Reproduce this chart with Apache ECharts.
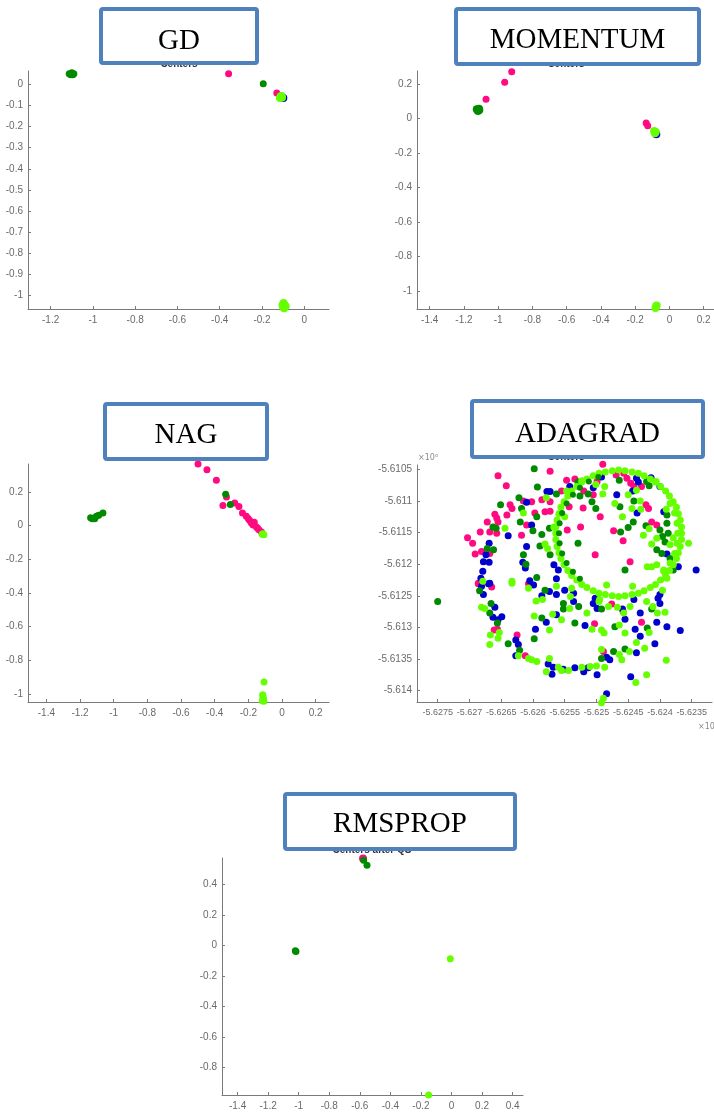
<!DOCTYPE html>
<html><head><meta charset="utf-8">
<script src="https://cdn.jsdelivr.net/npm/echarts@6/dist/echarts.min.js"></script>
<style>html,body{margin:0;padding:0;background:#fff}#c{width:714px;height:1113px}</style>
</head><body><div id="c"></div>
<script>
// ---------------- DATA ----------------
const panelTitles = ['GD', 'MOMENTUM', 'NAG', 'ADAGRAD', 'RMSPROP'];
const hiddenTitles = ['Centers', 'Centers', '', 'Centers', 'Centers after QS'];

// tick labels
const gdXTicks = [-1.2, -1, -0.8, -0.6, -0.4, -0.2, 0];
const gdYTicks = [0, -0.1, -0.2, -0.3, -0.4, -0.5, -0.6, -0.7, -0.8, -0.9, -1];
const momXTicks = [-1.4, -1.2, -1, -0.8, -0.6, -0.4, -0.2, 0, 0.2];
const momYTicks = [0.2, 0, -0.2, -0.4, -0.6, -0.8, -1];
const nagXTicks = [-1.4, -1.2, -1, -0.8, -0.6, -0.4, -0.2, 0, 0.2];
const nagYTicks = [0.2, 0, -0.2, -0.4, -0.6, -0.8, -1];
const adaXTicks = [-5.6275, -5.627, -5.6265, -5.626, -5.6255, -5.625, -5.6245, -5.624, -5.6235];
const adaYTicks = [-5.6105, -5.611, -5.6115, -5.612, -5.6125, -5.613, -5.6135, -5.614];
const rmsXTicks = [-1.4, -1.2, -1, -0.8, -0.6, -0.4, -0.2, 0, 0.2, 0.4];
const rmsYTicks = [0.4, 0.2, 0, -0.2, -0.4, -0.6, -0.8];

// GD
const gdPink = [[-0.358, 0.050], [-0.130, -0.041]];
const gdGreen = [[-1.112, 0.050], [-1.100, 0.055], [-1.090, 0.050], [-1.105, 0.045], [-1.095, 0.045], [-0.194, 0.003]];
const gdBlue = [[-0.099, -0.065]];
const gdLime = [[-0.112, -0.058], [-0.105, -0.062], [-0.115, -0.065], [-0.108, -0.055],
  [-0.098, -1.035], [-0.092, -1.045], [-0.100, -1.055], [-0.088, -1.050], [-0.095, -1.060], [-0.103, -1.045]];

// MOMENTUM
const momPink = [[-0.921, 0.273], [-0.962, 0.212], [-1.071, 0.113], [-0.136, -0.025], [-0.127, -0.041]];
const momGreen = [[-1.125, 0.055], [-1.112, 0.058], [-1.118, 0.045], [-1.110, 0.050]];
const momBlue = [[-0.077, -0.091]];
const momLime = [[-0.090, -0.072], [-0.080, -0.078], [-0.085, -0.085],
  [-0.079, -1.093], [-0.075, -1.085], [-0.082, -1.100]];

// NAG
const nagPink = [[-0.499, 0.366], [-0.446, 0.332], [-0.390, 0.269], [-0.330, 0.170], [-0.351, 0.119], [-0.281, 0.135],
  [-0.256, 0.114], [-0.235, 0.075], [-0.212, 0.055], [-0.200, 0.040], [-0.192, 0.031], [-0.182, 0.015], [-0.165, 0.020],
  [-0.172, 0.004], [-0.152, -0.008], [-0.145, -0.015], [-0.137, -0.024], [-0.122, -0.038]];
const nagGreen = [[-1.137, 0.046], [-1.127, 0.041], [-1.113, 0.041], [-1.103, 0.055], [-1.089, 0.061], [-1.064, 0.075],
  [-0.335, 0.186], [-0.307, 0.125]];
const nagLime = [[-0.113, -0.048], [-0.108, -0.055], [-0.118, -0.052], [-0.107, -0.929], [-0.115, -1.005],
  [-0.113, -1.015], [-0.112, -1.024], [-0.110, -1.035], [-0.108, -1.044], [-0.117, -1.040]];

// ADAGRAD (values x 10^6)
const adaPink = [[-5.62573,-5.61053],[-5.62655,-5.61060],[-5.62642,-5.61076],[-5.62555,-5.61084],[-5.62615,-5.61100],[-5.62602,-5.61101],[-5.62586,-5.61098],[-5.62573,-5.61101],[-5.62636,-5.61106],[-5.62660,-5.61121],[-5.62657,-5.61127],[-5.62641,-5.61122],[-5.62597,-5.61119],[-5.62581,-5.61117],[-5.62573,-5.61116],[-5.62672,-5.61133],[-5.62655,-5.61133],[-5.62683,-5.61149],[-5.62668,-5.61149],[-5.62657,-5.61151],[-5.62610,-5.61138],[-5.62618,-5.61154],[-5.62703,-5.61158],[-5.62695,-5.61167],[-5.62691,-5.61184],[-5.62681,-5.61180],[-5.62668,-5.61183],[-5.62686,-5.61230],[-5.62633,-5.61112],
[-5.62490,-5.61042],[-5.62547,-5.61067],[-5.62534,-5.61065],[-5.62499,-5.61069],[-5.62469,-5.61059],[-5.62457,-5.61056],[-5.62452,-5.61064],[-5.62446,-5.61072],[-5.62441,-5.61077],[-5.62429,-5.61077],[-5.62520,-5.61084],[-5.62505,-5.61090],[-5.62521,-5.61111],[-5.62543,-5.61109],[-5.62494,-5.61125],[-5.62422,-5.61106],[-5.62418,-5.61112],[-5.62473,-5.61147],[-5.62458,-5.61163],[-5.62525,-5.61141],[-5.62546,-5.61146],[-5.62502,-5.61185],[-5.62447,-5.61196],[-5.62413,-5.61133],[-5.62405,-5.61138],
[-5.62686,-5.61231],[-5.62665,-5.61236],[-5.62661,-5.61304],[-5.62656,-5.61303],[-5.62625,-5.61312],[-5.62612,-5.61345],[-5.62607,-5.61231],
[-5.62476,-5.61263],[-5.62458,-5.61275],[-5.62503,-5.61294],[-5.62429,-5.61292],[-5.62489,-5.61338]];
const adaBlue = [[-5.62578,-5.61085],[-5.62573,-5.61085],[-5.62610,-5.61102],[-5.62602,-5.61138],[-5.62639,-5.61155],[-5.62669,-5.61167],[-5.62674,-5.61185],[-5.62678,-5.61196],[-5.62669,-5.61197],[-5.62679,-5.61211],[-5.62682,-5.61222],[-5.62668,-5.61230],[-5.62610,-5.61172],[-5.62612,-5.61206],[-5.62605,-5.61226],[-5.62567,-5.61201],[-5.62560,-5.61209],[-5.62563,-5.61223],
[-5.62542,-5.61077],[-5.62505,-5.61079],[-5.62492,-5.61062],[-5.62437,-5.61064],[-5.62434,-5.61070],[-5.62443,-5.61084],[-5.62414,-5.61063],[-5.62400,-5.61077],[-5.62468,-5.61090],[-5.62436,-5.61119],[-5.62394,-5.61117],[-5.62389,-5.61184],[-5.62371,-5.61204],[-5.62343,-5.61209],
[-5.62681,-5.61235],[-5.62670,-5.61231],[-5.62678,-5.61248],[-5.62660,-5.61268],[-5.62663,-5.61284],[-5.62649,-5.61283],[-5.62655,-5.61288],[-5.62627,-5.61320],[-5.62623,-5.61327],[-5.62627,-5.61345],[-5.62599,-5.61233],[-5.62586,-5.61250],[-5.62574,-5.61243],[-5.62563,-5.61248],[-5.62579,-5.61292],[-5.62563,-5.61280],[-5.62596,-5.61303],[-5.62576,-5.61358],[-5.62568,-5.61363],[-5.62570,-5.61374],
[-5.62550,-5.61241],[-5.62536,-5.61246],[-5.62505,-5.61262],[-5.62459,-5.61271],[-5.62431,-5.61277],[-5.62403,-5.61254],[-5.62400,-5.61262],[-5.62400,-5.61248],[-5.62518,-5.61297],[-5.62455,-5.61287],[-5.62439,-5.61303],[-5.62431,-5.61314],[-5.62405,-5.61292],[-5.62368,-5.61305],[-5.62408,-5.61326],[-5.62437,-5.61340],[-5.62479,-5.61351],[-5.62484,-5.61347],[-5.62446,-5.61378],[-5.62499,-5.61375],[-5.62552,-5.61366],[-5.62534,-5.61364],[-5.62513,-5.61364],[-5.62484,-5.61405],[-5.62520,-5.61370],[-5.62616,-5.61197],[-5.62536,-5.61259],[-5.62502,-5.61254],[-5.62499,-5.61270],[-5.62441,-5.61256],[-5.62389,-5.61299]];
const adaGreen = [[-5.62598,-5.61049],[-5.62593,-5.61078],[-5.62563,-5.61089],[-5.62622,-5.61095],[-5.62651,-5.61106],[-5.62618,-5.61112],[-5.62594,-5.61125],[-5.62663,-5.61141],[-5.62658,-5.61143],[-5.62620,-5.61133],[-5.62600,-5.61147],[-5.62586,-5.61153],[-5.62574,-5.61143],[-5.62672,-5.61175],[-5.62662,-5.61177],[-5.62589,-5.61171],[-5.62573,-5.61185],[-5.62615,-5.61185],[-5.62611,-5.61200],[-5.62594,-5.61221],
[-5.62529,-5.61070],[-5.62464,-5.61067],[-5.62421,-5.61069],[-5.62417,-5.61076],[-5.62526,-5.61092],[-5.62513,-5.61089],[-5.62507,-5.61101],[-5.62501,-5.61112],[-5.62463,-5.61109],[-5.62441,-5.61100],[-5.62442,-5.61133],[-5.62450,-5.61142],[-5.62462,-5.61149],[-5.62529,-5.61167],[-5.62455,-5.61209],[-5.62422,-5.61139],[-5.62400,-5.61146],[-5.62389,-5.61135],[-5.62389,-5.61122],[-5.62396,-5.61156],[-5.62392,-5.61165],[-5.62387,-5.61151],[-5.62405,-5.61177],[-5.62397,-5.61183],[-5.62384,-5.61191],[-5.62379,-5.61209],
[-5.62750,-5.61259],[-5.62684,-5.61242],[-5.62666,-5.61262],[-5.62668,-5.61277],[-5.62656,-5.61293],[-5.62639,-5.61326],[-5.62621,-5.61336],[-5.62581,-5.61241],[-5.62586,-5.61285],[-5.62598,-5.61318],[-5.62552,-5.61271],
[-5.62552,-5.61262],[-5.62492,-5.61271],[-5.62413,-5.61271],[-5.62534,-5.61293],[-5.62471,-5.61299],[-5.62420,-5.61301],[-5.62473,-5.61338],[-5.62455,-5.61334],[-5.62492,-5.61349],[-5.62528,-5.61267]];
const adaRingGreen = [[-5.62497,-5.61062],[-5.62512,-5.61069],[-5.62526,-5.61079],[-5.62537,-5.61090],[-5.62547,-5.61104],[-5.62554,-5.61119],[-5.62558,-5.61135],[-5.62559,-5.61151],[-5.62558,-5.61167],[-5.62554,-5.61183],[-5.62547,-5.61198],[-5.62537,-5.61212],[-5.62526,-5.61223]];
const adaLime = [[-5.62579,-5.61095],[-5.62615,-5.61119],[-5.62644,-5.61143],[-5.62567,-5.61141],[-5.62581,-5.61168],[-5.62577,-5.61175],[-5.62633,-5.61227],
[-5.62523,-5.61068],[-5.62547,-5.61084],[-5.62501,-5.61074],[-5.62487,-5.61077],[-5.62490,-5.61089],[-5.62437,-5.61083],[-5.62406,-5.61069],[-5.62550,-5.61125],[-5.62471,-5.61104],[-5.62450,-5.61090],[-5.62444,-5.61112],[-5.62431,-5.61100],[-5.62430,-5.61113],[-5.62459,-5.61125],[-5.62390,-5.61113],[-5.62426,-5.61154],[-5.62417,-5.61144],[-5.62413,-5.61168],[-5.62405,-5.61159],[-5.62384,-5.61169],[-5.62379,-5.61158],[-5.62413,-5.61204],[-5.62405,-5.61201],[-5.62420,-5.61204],[-5.62355,-5.61167],[-5.62394,-5.61209],[-5.62389,-5.61222],
[-5.62679,-5.61227],[-5.62633,-5.61230],[-5.62681,-5.61268],[-5.62676,-5.61270],[-5.62653,-5.61308],[-5.62667,-5.61312],[-5.62655,-5.61317],[-5.62668,-5.61327],[-5.62623,-5.61345],[-5.62607,-5.61349],[-5.62602,-5.61351],[-5.62594,-5.61354],[-5.62607,-5.61238],[-5.62595,-5.61258],[-5.62585,-5.61256],[-5.62563,-5.61235],[-5.62598,-5.61282],[-5.62569,-5.61279],[-5.62555,-5.61288],[-5.62574,-5.61304],[-5.62574,-5.61349],[-5.62579,-5.61370],[-5.62560,-5.61363],[-5.62555,-5.61368],
[-5.62539,-5.61238],[-5.62542,-5.61270],[-5.62496,-5.61259],[-5.62481,-5.61267],[-5.62467,-5.61268],[-5.62447,-5.61267],[-5.62421,-5.61259],[-5.62411,-5.61267],[-5.62404,-5.61277],[-5.62392,-5.61276],[-5.62484,-5.61233],[-5.62443,-5.61235],[-5.62396,-5.61241],[-5.62507,-5.61303],[-5.62492,-5.61304],[-5.62488,-5.61309],[-5.62464,-5.61296],[-5.62455,-5.61309],[-5.62417,-5.61308],[-5.62437,-5.61324],[-5.62424,-5.61333],[-5.62492,-5.61335],[-5.62464,-5.61343],[-5.62448,-5.61338],[-5.62460,-5.61351],[-5.62500,-5.61361],[-5.62487,-5.61363],[-5.62438,-5.61387],[-5.62421,-5.61375],[-5.62390,-5.61352],[-5.62523,-5.61363],[-5.62544,-5.61368],[-5.62489,-5.61412],[-5.62492,-5.61419],[-5.62541,-5.61251],[-5.62515,-5.61277],[-5.62457,-5.61277],[-5.62495,-5.61256],[-5.62510,-5.61362]];
const adaRingLime = [[-5.62366,-5.61151],[-5.62366,-5.61141],[-5.62368,-5.61130],[-5.62371,-5.61120],[-5.62374,-5.61110],[-5.62379,-5.61101],[-5.62385,-5.61092],[-5.62391,-5.61084],[-5.62399,-5.61077],[-5.62407,-5.61070],[-5.62415,-5.61065],[-5.62425,-5.61060],[-5.62434,-5.61056],[-5.62444,-5.61054],[-5.62455,-5.61052],[-5.62465,-5.61051],
[-5.62475,-5.61052],[-5.62486,-5.61054],[-5.62496,-5.61056],[-5.62505,-5.61060],[-5.62515,-5.61065],[-5.62523,-5.61070],[-5.62531,-5.61077],[-5.62539,-5.61084],[-5.62545,-5.61092],[-5.62551,-5.61101],[-5.62556,-5.61110],[-5.62559,-5.61120],[-5.62562,-5.61130],[-5.62564,-5.61141],[-5.62564,-5.61151],
[-5.62564,-5.61161],[-5.62562,-5.61172],[-5.62559,-5.61182],[-5.62556,-5.61191],[-5.62551,-5.61201],[-5.62545,-5.61210],[-5.62539,-5.61218],[-5.62531,-5.61225],[-5.62523,-5.61232],[-5.62515,-5.61237],[-5.62505,-5.61242],[-5.62496,-5.61246],[-5.62486,-5.61248],[-5.62475,-5.61250],[-5.62465,-5.61251],
[-5.62455,-5.61250],[-5.62444,-5.61248],[-5.62434,-5.61246],[-5.62425,-5.61242],[-5.62415,-5.61237],[-5.62407,-5.61232],[-5.62399,-5.61225],[-5.62391,-5.61218],[-5.62385,-5.61210],[-5.62379,-5.61201],[-5.62374,-5.61191],[-5.62371,-5.61182],[-5.62368,-5.61172],[-5.62366,-5.61161],
[-5.62384,-5.61104],[-5.62377,-5.61119],[-5.62373,-5.61135],[-5.62372,-5.61151],[-5.62373,-5.61167],[-5.62377,-5.61183],[-5.62384,-5.61198],[-5.62394,-5.61211]];

// RMSPROP
const rmsPink = [[-0.579, 0.570]];
const rmsGreen = [[-0.575, 0.559], [-0.553, 0.527], [-1.022, -0.035], [-1.018, -0.040]];
const rmsLime = [[-0.008, -0.088], [-0.150, -0.982]];

// ---------------- STYLE / LAYOUT ----------------
const COL = { pink: '#ff0a80', green: '#008a00', lime: '#66ff00', blue: '#0000cc' };
const grids = [
  { left: 28, top: 71, width: 301, height: 238 },
  { left: 417, top: 71, width: 297, height: 238 },
  { left: 28, top: 464, width: 301, height: 238 },
  { left: 417, top: 465, width: 295, height: 237 },
  { left: 222, top: 858, width: 301, height: 237 }
];
const xRanges = [[-1.307, 0.117], [-1.474, 0.26], [-1.509, 0.279], [-5.627826, -5.62318], [-1.502, 0.468]];
const yRanges = [[-1.063, 0.063], [-1.106, 0.277], [-1.048, 0.366], [-5.61418, -5.61043], [-0.982, 0.574]];
const xTicks = [gdXTicks, momXTicks, nagXTicks, adaXTicks, rmsXTicks];
const yTicks = [gdYTicks, momYTicks, nagYTicks, adaYTicks, rmsYTicks];
const xLabelSize = [10, 10, 10, 9, 10];

const fmt = v => String(+(+v).toFixed(6));
function axis(i, range, ticks, isX) {
  return {
    type: 'value', gridIndex: i, min: range[0], max: range[1], scale: true,
    axisLine: { show: true, onZero: false, lineStyle: { color: '#7a7a7a', width: 1 } },
    axisTick: { show: true, inside: true, length: 3, customValues: ticks, lineStyle: { color: '#7a7a7a' } },
    axisLabel: { show: true, customValues: ticks, formatter: fmt, color: '#6a6a6a', fontSize: isX ? xLabelSize[i] : 10,
      fontFamily: '"Liberation Sans", Arial, sans-serif', margin: isX ? 6 : 5, hideOverlap: false, showMinLabel: true, showMaxLabel: true },
    splitLine: { show: false }
  };
}

const series = [];
function scat(i, data, color, size, z) {
  series.push({ type: 'scatter', xAxisIndex: i, yAxisIndex: i, data: data, symbol: 'circle', symbolSize: size,
    itemStyle: { color: color, opacity: 1 }, clip: false, silent: true, z: z || 2, animation: false });
}
scat(0, gdPink, COL.pink, 7); scat(0, gdGreen, COL.green, 7); scat(0, gdBlue, COL.blue, 8); scat(0, gdLime, COL.lime, 8);
scat(1, momPink, COL.pink, 7); scat(1, momGreen, COL.green, 8); scat(1, momBlue, COL.blue, 8); scat(1, momLime, COL.lime, 8);
scat(2, nagPink, COL.pink, 7); scat(2, nagGreen, COL.green, 7); scat(2, nagLime, COL.lime, 7);
scat(3, adaPink, COL.pink, 7); scat(3, adaBlue, COL.blue, 7); scat(3, adaGreen, COL.green, 7);
scat(3, adaLime, COL.lime, 7); scat(3, adaRingLime, COL.lime, 7); scat(3, adaRingGreen, COL.green, 6);
scat(4, rmsPink, COL.pink, 8); scat(4, rmsGreen, COL.green, 7); scat(4, rmsLime, COL.lime, 7);

// title boxes (outer edges)
const boxes = [[99, 7, 259, 65], [454, 7, 701, 66], [103, 402, 269, 461], [470, 399, 705, 459], [283, 792, 517, 851]];
const titleY = [41, 40, 435, 434.5, 824];
const hiddenPos = [[179, 64], [566, 64], [186, 457], [566, 457], [372, 850]];
const graphics = [];
boxes.forEach((b, k) => {
  if (hiddenTitles[k]) graphics.push({ type: 'text', z: 50, style: { text: hiddenTitles[k], x: hiddenPos[k][0], y: hiddenPos[k][1],
    fill: '#333', font: 'bold 10px "Liberation Sans", Arial, sans-serif', textAlign: 'center', textVerticalAlign: 'middle' } });
  graphics.push({ type: 'rect', z: 100, shape: { x: b[0] + 2, y: b[1] + 2, width: b[2] - b[0] - 4, height: b[3] - b[1] - 4, r: 2 },
    style: { fill: '#fff', stroke: '#4f81bd', lineWidth: 4 } });
  graphics.push({ type: 'text', z: 101, style: { text: panelTitles[k], x: (b[0] + b[2]) / 2, y: titleY[k],
    fill: '#000', font: '29px "Liberation Serif", "Times New Roman", serif', textAlign: 'center', textVerticalAlign: 'middle',
    shadowColor: 'rgba(0,0,0,0.35)', shadowBlur: 2, shadowOffsetX: 1, shadowOffsetY: 1 } });
});
graphics.push({ type: 'text', z: 60, style: { text: '×10⁶', x: 418, y: 458, fill: '#8a8a8a',
  font: '8px "DejaVu Sans", sans-serif', textAlign: 'left', textVerticalAlign: 'middle' } });
graphics.push({ type: 'text', z: 60, style: { text: '×10⁶', x: 698, y: 727, fill: '#8a8a8a',
  font: '8px "DejaVu Sans", sans-serif', textAlign: 'left', textVerticalAlign: 'middle' } });

const chart = echarts.init(document.getElementById('c'), null, { renderer: 'canvas', width: 714, height: 1113 });
chart.setOption({
  backgroundColor: '#fff',
  animation: false,
  grid: grids.map(g => Object.assign({ containLabel: false, outerBoundsMode: 'none' }, g)),
  xAxis: xRanges.map((r, i) => axis(i, r, xTicks[i], true)),
  yAxis: yRanges.map((r, i) => axis(i, r, yTicks[i], false)),
  series: series,
  graphic: { elements: graphics }
});
</script></body></html>
